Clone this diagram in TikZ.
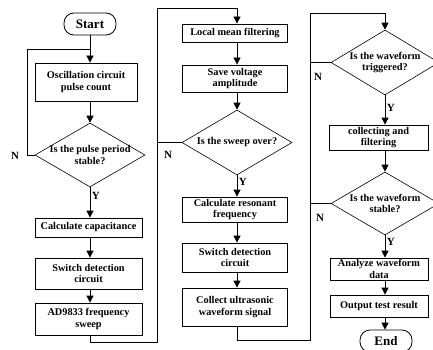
\documentclass[tikz,border=0pt]{standalone}
\usepackage{fontspec}
\setmainfont{Liberation Serif}
\usetikzlibrary{shapes.geometric,arrows.meta}
\begin{document}
\begin{tikzpicture}[x=1pt,y=-1pt,
  font=\bfseries\fontsize{10.3}{11.5}\selectfont,
  box/.style={draw,line width=0.8pt,rectangle,inner sep=1pt,align=center},
  dia/.style={draw,line width=0.6pt,diamond,inner sep=0pt},
  term/.style={draw,line width=0.8pt,rounded corners=10pt,inner sep=0pt,font=\bfseries\fontsize{13}{14}\selectfont},
  txt/.style={align=center,inner sep=0pt},
  lab/.style={font=\bfseries\fontsize{11}{12}\selectfont,inner sep=0pt},
  ylab/.style={lab,anchor=west,xshift=1.5pt},
  arr/.style={line width=0.8pt,-{Triangle[length=7pt,width=7pt]}},
  ln/.style={line width=0.8pt}]
\useasboundingbox (0,0) rectangle (433,350);
\clip (0,0) rectangle (433,350);
% column 1
\node[term,minimum width=52pt,minimum height=22pt] (start) at (90,24) {Start};
\node[box,minimum width=102pt,minimum height=38pt] (b1) at (86,82) {Oscillation circuit\\pulse count};
\node[dia,minimum width=110pt,minimum height=64pt] (d1) at (90,155) {};
\node[txt] (t1) at (d1) {Is the pulse period\\stable?};
\node[box,minimum width=107pt,minimum height=19pt] (b2) at (88.5,227.5) {Calculate capacitance};
\node[box,minimum width=107pt,minimum height=31pt] (b3) at (88.5,273.5) {Switch detection\\circuit};
\node[box,minimum width=107pt,minimum height=32pt] (b4) at (88.5,319) {AD9833 frequency\\sweep};
% column 2
\node[box,minimum width=105pt,minimum height=18pt] (b5) at (235,33) {Local mean filtering};
\node[box,minimum width=105pt,minimum height=27pt] (b6) at (235,78.5) {Save voltage\\amplitude};
\node[dia,minimum width=110pt,minimum height=65pt] (d2) at (237,142.5) {};
\node[txt] (t2) at (d2) {Is the sweep over?};
\node[box,minimum width=105pt,minimum height=25pt] (b7) at (235,209.5) {Calculate resonant\\frequency};
\node[box,minimum width=105pt,minimum height=29pt] (b8) at (235,257.5) {Switch detection\\circuit};
\node[box,minimum width=105pt,minimum height=38pt] (b9) at (235,307) {Collect ultrasonic\\waveform signal};
% column 3
\node[dia,minimum width=108pt,minimum height=65pt] (d3) at (385,62.5) {};
\node[txt] (t3) at (d3) {Is the waveform\\triggered?};
\node[box,minimum width=99pt,minimum height=25pt] (b10) at (378.5,137.5) {collecting and\\filtering};
\node[dia,minimum width=108pt,minimum height=63pt] (d4) at (385,203.5) {};
\node[txt] (t4) at (d4) {Is the waveform\\stable?};
\node[box,minimum width=98pt,minimum height=22pt] (b11) at (379,269) {Analyze waveform\\data};
\node[box,minimum width=98pt,minimum height=22pt] (b12) at (379,306) {Output test result};
\node[term,minimum width=52pt,minimum height=22pt] (end) at (386,341) {End};
% N labels
\node[lab] (n1) at (15,156) {N};
\node[lab] (n2) at (168,155) {N};
\node[lab] (n3) at (318,77) {N};
\node[lab] (n4) at (320,218) {N};
% helper coordinates
\coordinate (j1) at (90,49);
\coordinate (l1) at (27,49);
\coordinate (c1) at (157,342);
\coordinate (c2) at (157,8);
\coordinate (c3) at (310,340);
\coordinate (c4) at (310,13);
% column 1 connectors
\draw[ln] (start.south) -- (j1);
\draw[arr] (j1) -- (j1 |- b1.north);
\draw[ln] (d1.west) -| (l1) -- (j1);
\draw[arr] (b1.south -| d1.north) -- (d1.north);
\draw[arr] (d1.south) -- (d1.south |- b2.north) node[ylab,pos=0.3] {Y};
\draw[arr] (b2.south -| d1.south) -- (d1.south |- b3.north);
\draw[arr] (b3.south -| d1.south) -- (d1.south |- b4.north);
\draw[ln] (b4.south -| d1.south) |- (c1) -- (c2);
\draw[arr] (c2) -| (d2.north |- b5.north);
\draw[ln] (d2.west) -- (d2.west -| c2);
% column 2 connectors
\draw[arr] (b5.south -| d2.north) -- (d2.north |- b6.north);
\draw[arr] (b6.south -| d2.north) -- (d2.north);
\draw[arr] (d2.south) -- (d2.south |- b7.north) node[ylab,pos=0.3] {Y};
\draw[arr] (b7.south -| d2.south) -- (d2.south |- b8.north);
\draw[arr] (b8.south -| d2.south) -- (d2.south |- b9.north);
\draw[ln] (b9.south -| d2.south) |- (c3) -- (c4);
\draw[arr] (c4) -| (d3.north);
\draw[ln] (d3.west) -- (d3.west -| c4);
% column 3 connectors
\draw[arr] (d3.south) -- (d3.south |- b10.north) node[ylab,pos=0.43] {Y};
\draw[arr] (b10.south -| d3.south) -- (d4.north);
\draw[ln] (d4.west) -- (d4.west -| c4);
\draw[arr] (d4.south) -- (d4.south |- b11.north) node[ylab,pos=0.3] {Y};
\draw[arr] (b11.south -| d4.south) -- (d4.south |- b12.north);
\draw[arr] (b12.south -| d4.south) -- (d4.south |- end.north);
\end{tikzpicture}
\end{document}
